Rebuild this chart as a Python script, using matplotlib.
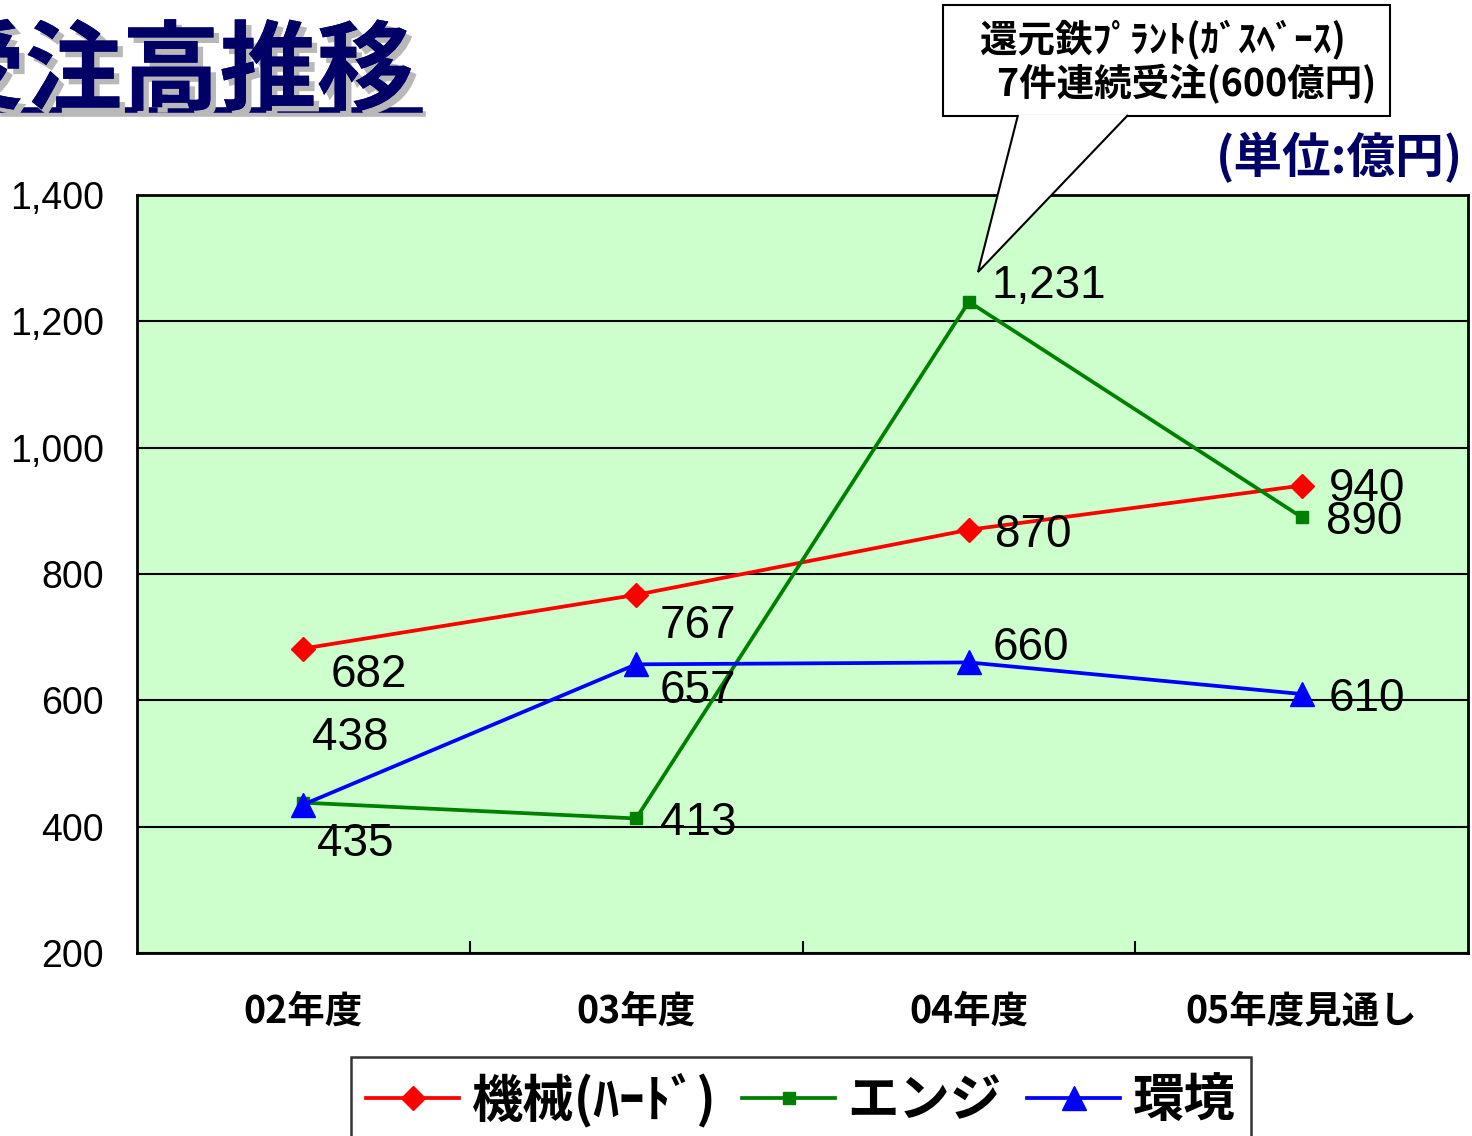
import matplotlib
matplotlib.use("Agg")
import matplotlib.pyplot as plt
import matplotlib.patheffects as pe
from matplotlib.lines import Line2D
from matplotlib.patches import Polygon, Rectangle
from matplotlib.ticker import FuncFormatter, FixedLocator

plt.rcParams["font.family"] = ["Noto Sans CJK JP", "DejaVu Sans"]

# data (億円)
years = ["02年度", "03年度", "04年度", "05年度見通し"]
kikai = [682, 767, 870, 940]      # 機械(ハード)
engi = [438, 413, 1231, 890]      # エンジ
kankyo = [435, 657, 660, 610]     # 環境
series_names = ["機械(ﾊｰﾄﾞ)", "エンジ", "環境"]
y_ticks = [200, 400, 600, 800, 1000, 1200, 1400]

title = "受注高推移"
unit = "(単位:億円)"
callout = "還元鉄ﾌﾟﾗﾝﾄ(ｶﾞｽﾍﾞｰｽ)\n  7件連続受注(600億円)"

# label offsets in pixels (dx, dy up)
kikai_off = [(65, -26), (62, -31), (64, -5), (65, -3)]
engi_off = [(47, 65), (62, -5), (80, 16), (63, -5)]
kankyo_off = [(52, -39), (62, -27), (62, 14), (65, -5)]

W, H = 1472, 1136
fig = plt.figure(figsize=(W / 100, H / 100), dpi=100)
fig.patch.set_facecolor("white")


def px(x, y):
    return (x / W, 1 - y / H)


ax = fig.add_axes([137 / W, 1 - 953 / H, (1468 - 137) / W, (953 - 195) / H])
ax.set_facecolor("#CCFFCC")
x = list(range(len(years)))

styles = [
    (kikai, "#FF0000", "D", 12, kikai_off),
    (engi, "#008000", "s", 9, engi_off),
    (kankyo, "#0000FF", "^", 17, kankyo_off),
]
handles = []
for vals, col, mk, ms, offs in styles:
    ln, = ax.plot(x, vals, color=col, lw=2.7, marker=mk, ms=ms, mec=col, mfc=col,
                  zorder=3, clip_on=False)
    handles.append(ln)
    for xi, v, (dx, dy) in zip(x, vals, offs):
        ax.annotate(f"{v:,}", (xi, v), xytext=(dx, dy), textcoords="offset pixels",
                    ha="center", va="center", fontsize=33, family="Liberation Sans",
                    color="black", zorder=4)

ax.set_xlim(-0.5, 3.5)
ax.set_ylim(200, 1400)
ax.set_yticks(y_ticks)
ax.yaxis.set_major_formatter(FuncFormatter(lambda v, p: f"{int(v):,}"))
ax.tick_params(axis="y", length=0, pad=24, labelsize=27)
for t in ax.get_yticklabels():
    t.set_family("Liberation Sans")
ax.set_xticks(x)
ax.set_xticklabels(years, fontsize=27, fontweight="bold")
ax.tick_params(axis="x", which="major", length=0, pad=28)
ax.xaxis.set_minor_locator(FixedLocator([0.5, 1.5, 2.5]))
ax.tick_params(axis="x", which="minor", direction="in", length=9, width=1.5, color="black")
ax.yaxis.grid(True, color="black", lw=1.5)
ax.set_axisbelow(True)
for s in ax.spines.values():
    s.set_linewidth(2)
    s.set_color("black")

# title with shadow and underline
shadow = [pe.withSimplePatchShadow(offset=(4, -4), shadow_rgbFace="#b8b8b8", alpha=1), pe.Normal()]
fig.text(*px(414, 102), title, ha="right", va="baseline", fontsize=70, fontweight="bold",
         color="#000066", path_effects=shadow)
fig.add_artist(Line2D([0, 420 / W], [1 - 110 / H] * 2, color="#000066", lw=4,
                      path_effects=[pe.SimpleLineShadow(offset=(2, -3), shadow_color="#b8b8b8", alpha=1),
                                    pe.Normal()]))

# unit
fig.text(*px(1463, 157), unit, ha="right", va="center", fontsize=35, fontweight="bold",
         color="#000066")

# callout
fig.add_artist(Rectangle(px(943, 116), 447 / W, 111 / H, transform=fig.transFigure,
                         facecolor="white", edgecolor="black", lw=1.5, zorder=5))
wedge = [px(1018, 115), px(978, 272), px(1128, 115)]
fig.add_artist(Polygon(wedge, closed=False, transform=fig.transFigure,
                       facecolor="white", edgecolor="black", lw=1.5, zorder=6))
fig.text(*px(980, 62), callout, ha="left", va="center", fontsize=27, fontweight="bold",
         linespacing=1.15, multialignment="left", zorder=7)

# legend
leg = fig.legend(handles, series_names, loc="upper center", bbox_to_anchor=px(801, 1057),
                 ncol=3, frameon=True, fancybox=False, edgecolor="black",
                 prop={"size": 37, "weight": "bold"}, handlelength=1.8,
                 handletextpad=0.25, columnspacing=0.5, borderpad=0.3, borderaxespad=0)
leg.get_frame().set_linewidth(1.8)

fig.savefig("out.png", dpi=100, facecolor="white")
